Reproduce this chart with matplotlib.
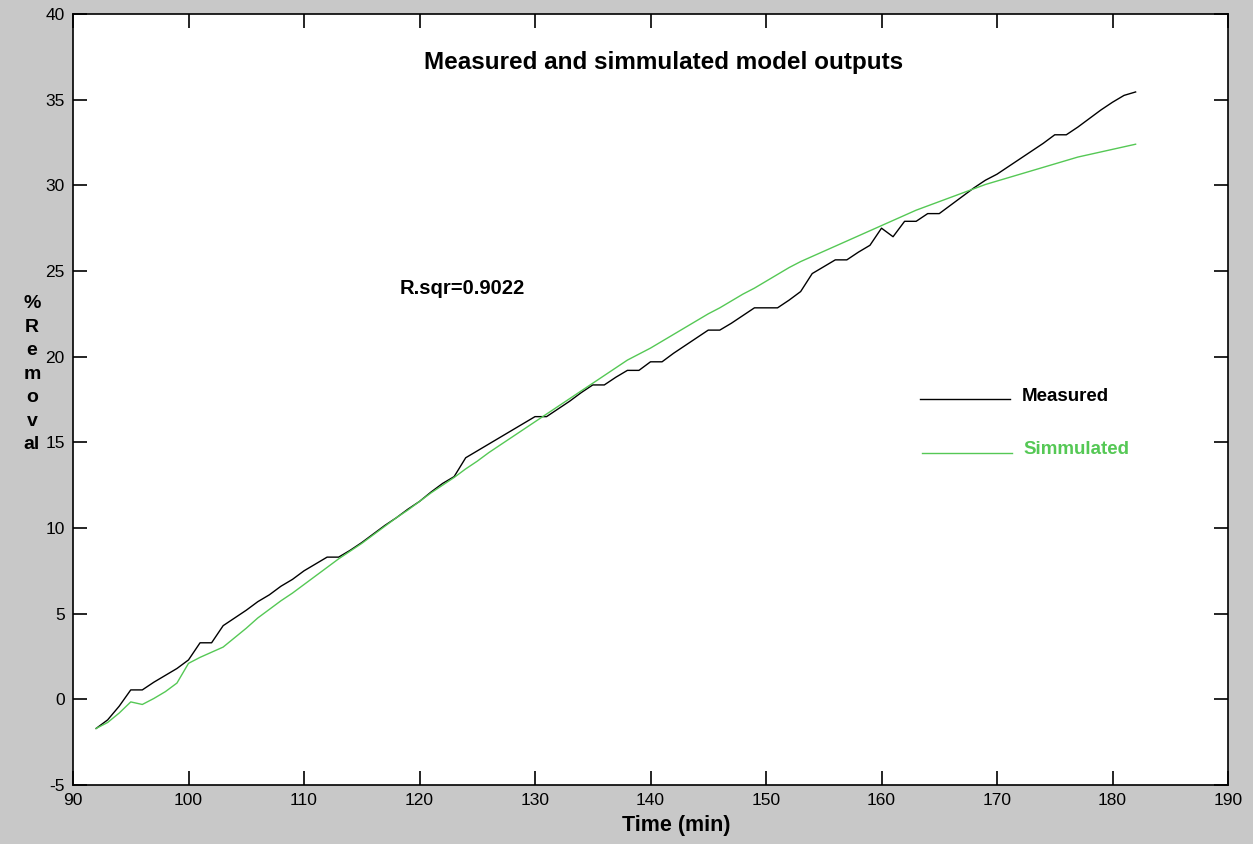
import numpy as np
import matplotlib.pyplot as plt

plt.rcParams['font.family'] = ['Liberation Sans', 'DejaVu Sans']
plt.rcParams['axes.unicode_minus'] = False

# time axis (min), one sample per minute
time_min = list(range(92, 183))

measured = [
    -1.7, -1.2, -0.4, 0.55, 0.55, 1.0, 1.4, 1.8, 2.3, 3.3,      # 92-101
    3.3, 4.3, 4.75, 5.2, 5.7, 6.1, 6.6, 7.0, 7.5, 7.9,          # 102-111
    8.3, 8.3, 8.7, 9.15, 9.65, 10.15, 10.6, 11.1, 11.55, 12.1,  # 112-121
    12.6, 13.0, 14.1, 14.5, 14.9, 15.3, 15.7, 16.1, 16.5, 16.5, # 122-131
    16.95, 17.4, 17.9, 18.35, 18.35, 18.8, 19.2, 19.2, 19.7, 19.7,  # 132-141
    20.2, 20.65, 21.1, 21.55, 21.55, 21.95, 22.4, 22.85, 22.85, 22.85,  # 142-151
    23.3, 23.8, 24.85, 25.25, 25.65, 25.65, 26.1, 26.5, 27.5, 27.0,  # 152-161
    27.9, 27.9, 28.35, 28.35, 28.85, 29.35, 29.85, 30.3, 30.65, 31.1,  # 162-171
    31.55, 32.0, 32.45, 32.95, 32.95, 33.4, 33.9, 34.4, 34.85, 35.25,  # 172-181
    35.45,                                                      # 182
]

simulated = [
    -1.7, -1.35, -0.8, -0.15, -0.3, 0.05, 0.45, 0.95, 2.1, 2.45,  # 92-101
    2.75, 3.05, 3.6, 4.15, 4.75, 5.25, 5.75, 6.2, 6.7, 7.2,     # 102-111
    7.7, 8.2, 8.65, 9.1, 9.6, 10.1, 10.6, 11.05, 11.55, 12.05,  # 112-121
    12.5, 12.95, 13.45, 13.9, 14.4, 14.85, 15.3, 15.75, 16.2, 16.65,  # 122-131
    17.1, 17.55, 18.0, 18.45, 18.9, 19.35, 19.8, 20.15, 20.5, 20.9,  # 132-141
    21.3, 21.7, 22.1, 22.5, 22.85, 23.25, 23.65, 24.0, 24.4, 24.8,  # 142-151
    25.2, 25.55, 25.85, 26.15, 26.45, 26.75, 27.05, 27.35, 27.65, 27.95,  # 152-161
    28.25, 28.55, 28.8, 29.05, 29.3, 29.55, 29.8, 30.05, 30.25, 30.45,  # 162-171
    30.65, 30.85, 31.05, 31.25, 31.45, 31.65, 31.8, 31.95, 32.1, 32.25,  # 172-181
    32.4,                                                       # 182
]

green = '#55c855'
gray = '#c8c8c8'

fig = plt.figure(figsize=(12.53, 8.44), dpi=100, facecolor=gray)
ax = fig.add_axes([73 / 1253, 59 / 844, 1155 / 1253, 771 / 844])

ax.plot(time_min, measured, color='black', lw=1.0)
ax.plot(time_min, simulated, color=green, lw=1.0)

ax.set_xlim(90, 190)
ax.set_ylim(-5, 40)
ax.set_xticks(np.arange(90, 191, 10))
ax.set_yticks(np.arange(-5, 41, 5))
ax.tick_params(direction='in', length=10, width=1.2, top=True, right=True,
               labelsize=12.5)
ax.tick_params(axis='x', pad=6)
ax.tick_params(axis='y', pad=6)
for sp in ax.spines.values():
    sp.set_linewidth(1.2)

ax.text(0.511, 0.937, 'Measured and simmulated model outputs', transform=ax.transAxes,
        ha='center', va='center', fontsize=17.5, fontweight='bold')
ax.text(118.3, 24.0, 'R.sqr=0.9022', ha='left', va='center', fontsize=14.5, fontweight='bold')

# hand-drawn legend
ax.plot([163.3, 171.1], [17.5, 17.5], color='black', lw=1.0)
ax.text(172.1, 17.65, 'Measured', ha='left', va='center', fontsize=13.5, fontweight='bold')
ax.plot([163.5, 171.3], [14.4, 14.4], color=green, lw=1.0)
ax.text(172.3, 14.6, 'Simmulated', ha='left', va='center', fontsize=13.5,
        fontweight='bold', color=green)

ax.set_xlabel('Time (min)', fontsize=15.5, fontweight='bold')
ax.xaxis.set_label_coords(0.522, -0.039)
fig.text(32 / 1253, 1 - 374 / 844, '%\nR\ne\nm\no\nv\nal', ha='center', va='center',
         fontsize=14, fontweight='bold', linespacing=1.5)

fig.savefig('out.png', dpi=100, facecolor=gray)
